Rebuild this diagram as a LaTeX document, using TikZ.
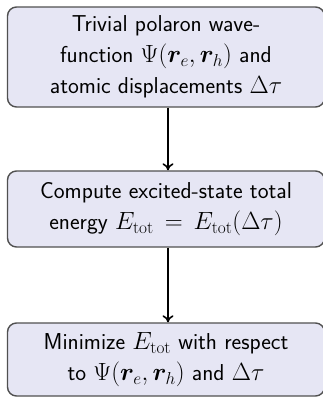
\documentclass[tikz,border=0pt]{standalone}
\usepackage{amsmath,bm}
\usetikzlibrary{arrows.meta}
\definecolor{boxfill}{RGB}{230,230,244}
\definecolor{boxline}{RGB}{80,80,80}
\newcommand{\Etot}{E_{\mathrm{tot}}}
\begin{document}
\begin{tikzpicture}[x=1pt,y=-1pt,
  stepbox/.style={draw=boxline, line width=1.4pt, fill=boxfill,
    rounded corners=9pt, minimum width=317pt, align=center,
    inner sep=0pt, font=\sffamily\fontsize{23}{31}\selectfont},
  flow/.style={-{To[length=7pt,width=11pt]}, line width=1.6pt}]
  \useasboundingbox (0,0) rectangle (323,397);
  \node[stepbox, minimum height=100pt] (b1) at (166,57)
    {Trivial polaron wave-\\
     function $\Psi(\bm{r}_e,\bm{r}_h)$ and\\
     atomic displacements $\Delta\tau$};
  \node[stepbox, minimum height=76pt] (b2) at (166,209)
    {Compute excited-state total\\
     energy $\Etot\,=\,\Etot(\Delta\tau)$};
  \node[stepbox, minimum height=73pt] (b3) at (166,359.5)
    {Minimize $\Etot$ with respect\\
     to $\Psi(\bm{r}_e,\bm{r}_h)$ and $\Delta\tau$};
  \draw[flow] ([xshift=2pt]b1.south) -- ([xshift=2pt]b2.north);
  \draw[flow] ([xshift=2pt]b2.south) -- ([xshift=2pt]b3.north);
\end{tikzpicture}
\end{document}
